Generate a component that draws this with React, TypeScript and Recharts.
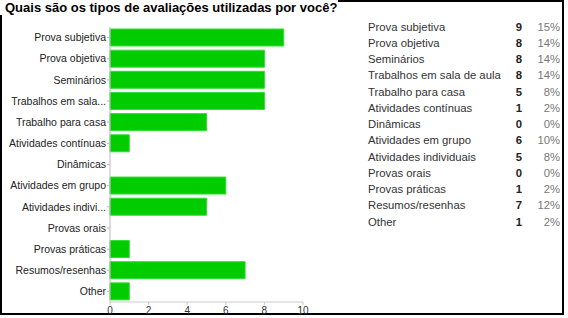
import React from "react";
import { BarChart, Bar, XAxis, YAxis } from "recharts";

// categorias e respostas
const categories = [
  "Prova subjetiva",
  "Prova objetiva",
  "Seminários",
  "Trabalhos em sala de aula",
  "Trabalho para casa",
  "Atividades contínuas",
  "Dinâmicas",
  "Atividades em grupo",
  "Atividades individuais",
  "Provas orais",
  "Provas práticas",
  "Resumos/resenhas",
  "Other",
];
const counts = [9, 8, 8, 8, 5, 1, 0, 6, 5, 0, 1, 7, 1];
const percents = ["15%", "14%", "14%", "14%", "8%", "2%", "0%", "10%", "8%", "0%", "2%", "12%", "2%"];
const xTicks = [0, 2, 4, 6, 8, 10];

const title = "Quais são os tipos de avaliações utilizadas por você?";
const font = '"Liberation Sans", Arial, sans-serif';

// rótulos longos são cortados como no Google Forms
const shortLabel = (s: string) => (s.length > 20 ? s.slice(0, 17) + "..." : s);

// rótulo em uma linha só (o padrão do recharts quebra o texto)
// eslint-disable-next-line @typescript-eslint/no-explicit-any
const CategoryTick = (props: any) => {
  const { x, y, payload } = props;
  return (
    <text x={x} y={y} dy="0.355em" textAnchor="end" fill="#222" fontSize={10.5} fontFamily={font}>
      {shortLabel(String(payload.value))}
    </text>
  );
};

export default function App() {
  const data = categories.map((name, i) => ({ name, count: counts[i] }));

  return (
    <div
      style={{
        position: "fixed",
        left: 0,
        top: 0,
        width: 568,
        height: 318,
        background: "#fff",
        fontFamily: font,
        overflow: "hidden",
      }}
    >
      {/* moldura preta */}
      <div
        style={{
          position: "absolute",
          left: 0,
          top: 0,
          width: 564,
          height: 315,
          border: "2px solid #000",
          boxSizing: "border-box",
        }}
      />

      {/* título sobre a moldura */}
      <div
        style={{
          position: "absolute",
          left: 0,
          top: 0,
          width: 338,
          height: 15,
          background: "#fff",
          paddingLeft: 5,
          boxSizing: "border-box",
          fontWeight: "bold",
          fontSize: 13,
          lineHeight: "15px",
          color: "#000",
          whiteSpace: "nowrap",
        }}
      >
        {title}
      </div>

      <div style={{ position: "absolute", left: 0, top: 0 }}>
        <BarChart
          width={320}
          height={318}
          layout="vertical"
          data={data}
          margin={{ top: 27, right: 17, bottom: 0, left: 0 }}
        >
          <XAxis
            type="number"
            domain={[0, 10]}
            ticks={xTicks}
            height={16}
            tickSize={3}
            tickMargin={2}
            stroke="#ccc"
            tick={{ fill: "#333", fontSize: 10, fontFamily: font }}
          />
          <YAxis
            type="category"
            dataKey="name"
            width={110}
            interval={0}
            tickSize={3}
            tickMargin={1}
            stroke="#bbb"
            tick={<CategoryTick />}
          />
          <Bar
            dataKey="count"
            fill="#00cc00"
            stroke="#33dd33"
            strokeWidth={1}
            barSize={17}
            isAnimationActive={false}
          />
        </BarChart>
      </div>

      {/* tabela de respostas */}
      <div style={{ position: "absolute", left: 368, top: 18.5, fontSize: 11.3 }}>
        {categories.map((name, i) => (
          <div key={name} style={{ position: "relative", height: 16.27, lineHeight: "16.27px", width: 192 }}>
            <span style={{ color: "#333" }}>{name}</span>
            <span
              style={{
                position: "absolute",
                right: 38,
                top: 0,
                fontWeight: "bold",
                color: "#222",
              }}
            >
              {counts[i]}
            </span>
            <span style={{ position: "absolute", right: 0, top: 0, color: "#777" }}>
              {percents[i]}
            </span>
          </div>
        ))}
      </div>
    </div>
  );
}
